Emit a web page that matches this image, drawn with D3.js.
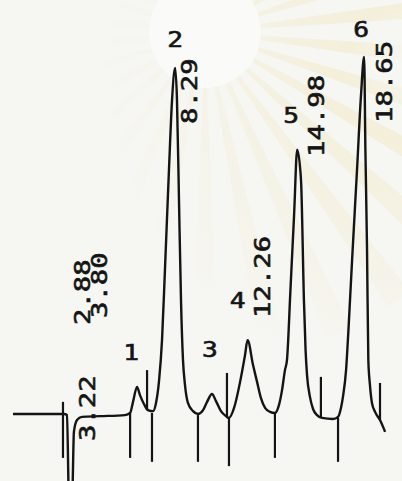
<!DOCTYPE html>
<html>
<head>
<meta charset="utf-8">
<script src="https://cdn.jsdelivr.net/npm/d3@7"></script>
<style>
  html, body { margin: 0; padding: 0; background: #f6f6f3; }
  svg { display: block; }
</style>
</head>
<body>
<svg id="chart" width="402" height="481"></svg>
<script>
// Detector trace: retention time (min) and signal (% of the largest peak)
const traceTime = [
  -0.60, 0.88, 2.20, 2.36, 2.47, 2.64, 2.74, 2.91, 3.18, 4.17, 5.54, 5.82,
  5.98, 6.20, 6.36, 6.58, 6.80, 7.08, 7.24, 7.41, 7.57, 7.73, 7.95, 8.12,
  8.29, 8.39, 8.50, 8.61, 8.72, 8.83, 8.99, 9.27, 9.54, 9.82, 10.04, 10.31,
  10.53, 10.80, 11.08, 11.24, 11.52, 11.85, 12.12, 12.26, 12.56, 12.78, 12.99,
  13.22, 13.49, 13.76, 13.98, 14.15, 14.31, 14.42, 14.61, 14.81, 14.98, 15.19,
  15.35, 15.44, 15.52, 15.68, 15.85, 16.07, 16.34, 16.94, 17.22, 17.38, 17.49,
  17.66, 17.79, 17.99, 18.26, 18.48, 18.65, 18.72, 18.81, 18.88, 18.97, 19.08,
  19.25, 19.52, 19.80
];
const traceSignal = [
  0, 0, 0, -0.3, -24, -24, -5.0, -1.7, -0.8, -0.6, -0.3, 0.3,
  3.4, 7.6, 5.3, 2.8, 1.1, 0.8, 3.1, 9.5, 20.7, 40.3, 68.3, 88.0,
  96.9, 88.0, 59.9, 31.9, 15.1, 8.1, 3.1, 0.8, 0, 1.1, 3.4, 5.6,
  3.6, 0.8, -0.6, -1.1, 1.7, 9.0, 16.5, 20.7, 13.7, 9.0, 4.5,
  1.7, 0.6, 0.3, 2.5, 6.7, 12.3, 15.1, 34.7, 55.7, 74.0, 65.5,
  31.9, 17.9, 10.9, 4.8, 1.4, -0.3, -1.1, -1.4, -0.8, 1.7, 4.8,
  12.3, 23.5, 43.1, 68.3, 89.4, 100, 74.0, 45.9, 15.1, 8.1, 3.1,
  0.6, -1.7, -5.0
];

// Integrator event marks: time, upper and lower signal level of each tick
const markTime   = [2.14, 5.82, 6.75, 7.02, 9.54, 11.13, 11.24, 13.76, 16.28, 17.22, 19.52];
const markTop    = [3.4, 0.3, 12.3, 0.3, -0.3, 11.5, -1.1, 0.3, 10.4, -1.1, 8.7];
const markBottom = [-12.3, -12.3, 1.1, -13.4, -13.4, -0.6, -14.6, -12.3, -1.1, -13.4, -1.7];

// Numbered peaks
const peakNumbers = ["1", "2", "3", "4", "5", "6"];
const peakTime    = [6.20, 8.29, 10.31, 12.26, 14.98, 18.65];
const peakHeight  = [7.6, 96.9, 5.6, 20.7, 74.0, 100];

// Retention times printed along the trace
const retentionTimes = [3.22, 2.88, 3.80, 8.29, 12.26, 14.98, 18.65];

// ---- layout ----
const x = d3.scaleLinear().domain([-0.60, 21.22]).range([13, 411]);
const y = d3.scaleLinear().domain([0, 100]).range([414, 57]);

// text placement: horizontal shift from the time position, and where the printed string starts
const rtShift  = [12, 13.5, 14, 22, 22, 27, 28];
const rtStartY = [441, 325, 318, 124, 318, 157, 123];
const numShiftX = [-6, 0, -2, -10, -6, -3];
const numShiftY = [27, 21, 37, 32, 27, 20];

const svg = d3.select("#chart");
const ink = "#141414";
const font = "'DejaVu Sans Mono', 'Liberation Mono', monospace";

// faint sunburst emblem in the paper
const defs = svg.append("defs");
const cx = 205, cy = 32;
const grad = defs.append("radialGradient")
  .attr("id", "rayFade").attr("gradientUnits", "userSpaceOnUse")
  .attr("cx", cx).attr("cy", cy).attr("r", 320);
grad.append("stop").attr("offset", 0).attr("stop-color", "#f2e8bf").attr("stop-opacity", 0);
grad.append("stop").attr("offset", 0.2).attr("stop-color", "#f2e8bf").attr("stop-opacity", 0.5);
grad.append("stop").attr("offset", 0.6).attr("stop-color", "#f3ebcb").attr("stop-opacity", 0.3);
grad.append("stop").attr("offset", 1).attr("stop-color", "#f3ebcb").attr("stop-opacity", 0);

const rays = d3.range(30).map(i => i * (2 * Math.PI / 30));
const arc = d3.arc().innerRadius(55).outerRadius(330);
svg.append("g").attr("transform", `translate(${cx},${cy})`)
  .selectAll("path").data(rays).join("path")
  .attr("d", a => arc({ startAngle: a - 0.04, endAngle: a + 0.04 }))
  .attr("fill", "url(#rayFade)");
svg.append("circle").attr("cx", cx).attr("cy", cy).attr("r", 56)
  .attr("fill", "#fafaf8").attr("opacity", 0.85);

// event ticks
svg.append("g").selectAll("line").data(markTime).join("line")
  .attr("x1", d => x(d)).attr("x2", d => x(d))
  .attr("y1", (d, i) => y(markTop[i])).attr("y2", (d, i) => y(markBottom[i]))
  .attr("stroke", ink).attr("stroke-width", 2.2);

// chromatogram trace
const line = d3.line()
  .x(d => x(d[0])).y(d => y(d[1]))
  .curve(d3.curveMonotoneX);
svg.append("path")
  .datum(traceTime.map((t, i) => [t, traceSignal[i]]))
  .attr("d", line)
  .attr("fill", "none").attr("stroke", ink).attr("stroke-width", 2.4)
  .attr("stroke-linejoin", "round");

// retention-time labels, printed reading upward
const fmt = d3.format(".2f");
svg.append("g").selectAll("text").data(retentionTimes).join("text")
  .attr("transform", (d, i) => `translate(${x(d) + rtShift[i]},${rtStartY[i]}) rotate(-90) scale(1.3,1)`)
  .attr("font-family", font).attr("font-size", 21)
  .attr("fill", ink).attr("stroke", ink).attr("stroke-width", 0.6)
  .text(d => fmt(d));

// peak numbers
svg.append("g").selectAll("text").data(peakNumbers).join("text")
  .attr("transform", (d, i) => `translate(${x(peakTime[i]) + numShiftX[i]},${y(peakHeight[i]) - numShiftY[i]}) scale(1.25,1)`)
  .attr("text-anchor", "middle")
  .attr("font-family", font).attr("font-size", 21)
  .attr("fill", ink).attr("stroke", ink).attr("stroke-width", 0.6)
  .text(d => d);
</script>
</body>
</html>
